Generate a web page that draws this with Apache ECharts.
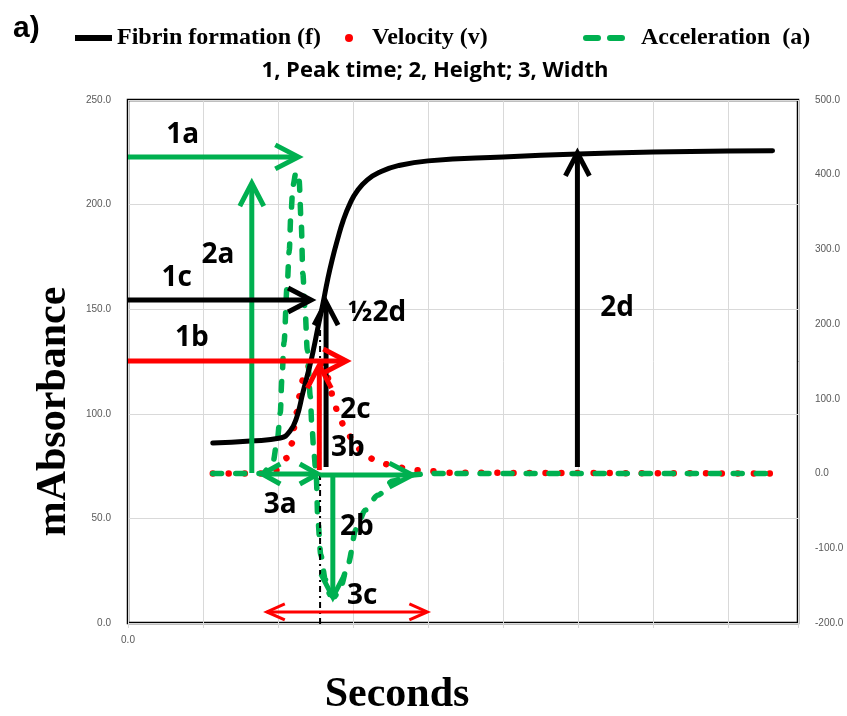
<!DOCTYPE html>
<html>
<head>
<meta charset="utf-8">
<script src="https://cdn.jsdelivr.net/npm/echarts@6/dist/echarts.min.js"></script>
<style>
  html, body { margin: 0; padding: 0; background: #fff; }
  #chart { width: 847px; height: 716px; }
</style>
</head>
<body>
<div id="chart"></div>
<script>
// fibrin formation (left axis, mAbsorbance)
var fibrinTime = [113, 163, 203, 216, 225, 233, 243, 248, 253, 260, 266, 272, 279, 287, 296, 305, 319, 336, 360, 400, 500, 600, 700, 800, 859];
var fibrin     = [86.0, 87.0, 88.4, 91.8, 98.5, 110, 124, 132, 141, 153, 164, 173.5, 183, 192.6, 200.6, 206.3, 211.8, 215.6, 218.6, 220.9, 222.8, 224.2, 225.1, 225.6, 225.8];

// velocity (right axis)
var velocityTime = [113, 179, 192, 199, 212, 219, 221, 225, 229, 233, 240, 248, 256, 264, 269, 273, 280, 289, 303, 316, 336, 356, 376, 399, 429, 859];
var velocity     = [0, 0, 3, 5, 21, 41, 61, 82, 105, 125, 143, 151, 149, 136, 121, 101, 81, 61, 38, 24, 14, 10, 5, 3.5, 1, 0];

// acceleration (right axis)
var accelTime = [113, 179, 193, 199, 203, 205, 208, 212, 215, 217, 220, 224, 228, 231, 233, 236, 239, 243, 245, 248, 251, 253, 257, 263, 269, 275, 283, 293, 304, 316, 333, 353, 376, 403, 859];
var accel     = [0, 0, 14, 45, 81, 125, 176, 250, 299, 346, 386, 404, 393, 333, 268, 219, 165, 103, 65, 25, -6, -62, -109, -142, -162, -165, -153, -122, -75, -49, -29, -10, -2, 0, 0];

// axis ranges [min, max, interval]
var timeAxis  = [0, 893, 100];
var leftAxis  = [0, 250, 50];
var rightAxis = [-200, 500, 100];

var GREEN = '#00B050', RED = '#FF0000', BLACK = '#000000';

// annotation arrows, in (seconds, mAbsorbance) units
var arrows = [
    {from: [0, 222.8],     to: [227, 222.8],   color: GREEN},
    {from: [165, 71.7],    to: [165, 210.3],   color: GREEN},
    {from: [179, 71.2],    to: [253, 71.2],    color: GREEN, both: true, head: 18, wing: 10},
    {from: [256, 70.7],    to: [379, 70.7],    color: GREEN},
    {from: [273, 70.3],    to: [273, 12.4],    color: GREEN},
    {from: [0, 154.4],     to: [244, 154.4],   color: BLACK},
    {from: [264, 74.6],    to: [264, 153.4],   color: BLACK},
    {from: [599, 74.6],    to: [599, 224.7],   color: BLACK},
    {from: [0, 125.2],     to: [291, 125.2],   color: RED},
    {from: [255, 73.1],    to: [255, 123.3],   color: RED},
    {from: [185, 5.3],     to: [399, 5.3],     color: RED, both: true, width: 3, head: 18, wing: 8}
];

var labels = [
    {text: '1a',  at: [73, 233.1]},
    {text: '2a',  at: [120, 175.9]},
    {text: '1c',  at: [65, 164.9]},
    {text: '1b',  at: [85, 136.2]},
    {text: '½2d', at: [332, 148.2]},
    {text: '2d',  at: [652, 150.6]},
    {text: '2c',  at: [303, 101.8]},
    {text: '3b',  at: [293, 83.7]},
    {text: '3a',  at: [203, 56.4]},
    {text: '2b',  at: [305, 45.9]},
    {text: '3c',  at: [312, 12.9]}
];

var peakLine = {from: [256, 140], to: [256, -2.4]};

function pairs(xs, ys) {
    return xs.map(function (x, i) { return [x, ys[i]]; });
}

function renderArrow(params, api) {
    var a = arrows[params.dataIndex];
    var p1 = api.coord(a.from), p2 = api.coord(a.to);
    var dx = p2[0] - p1[0], dy = p2[1] - p1[1];
    var len = Math.sqrt(dx * dx + dy * dy);
    var ux = dx / len, uy = dy / len, nx = -uy, ny = ux;
    var L = a.head || 23, W = a.wing || 12, lw = a.width || 5;
    var style = {stroke: a.color, lineWidth: lw, fill: null, lineCap: 'butt', lineJoin: 'miter'};
    function head(tip, sx, sy) {
        return {
            type: 'polyline',
            shape: {points: [
                [tip[0] - sx * L + nx * W, tip[1] - sy * L + ny * W],
                [tip[0], tip[1]],
                [tip[0] - sx * L - nx * W, tip[1] - sy * L - ny * W]
            ]},
            style: style
        };
    }
    var children = [
        {type: 'line', shape: {x1: p1[0], y1: p1[1], x2: p2[0] - ux * 2, y2: p2[1] - uy * 2}, style: style},
        head(p2, ux, uy)
    ];
    if (a.both) children.push(head(p1, -ux, -uy));
    if (params.dataIndex === 0) {
        var q1 = api.coord(peakLine.from), q2 = api.coord(peakLine.to);
        children.push({
            type: 'line',
            shape: {x1: q1[0], y1: q1[1], x2: q2[0], y2: q2[1]},
            style: {stroke: BLACK, lineWidth: 2, lineDash: [6, 4, 2, 4]}
        });
    }
    return {type: 'group', children: children};
}

function renderLabel(params, api) {
    var l = labels[params.dataIndex];
    var p = api.coord(l.at);
    return {
        type: 'text',
        x: p[0], y: p[1],
        style: {
            text: l.text, fill: BLACK,
            font: 'bold 28px "Open Sans", Lato, sans-serif',
            align: 'center', verticalAlign: 'middle'
        }
    };
}

var dom = document.getElementById('chart');
var myChart = echarts.init(dom, null, {renderer: 'canvas'});

var legendText = {fontFamily: 'Liberation Serif', fontWeight: 'bold', fontSize: 24, color: BLACK};
var axisLabelStyle = {color: '#595959', fontSize: 10, fontFamily: 'Liberation Sans'};

var option = {
    animation: false,
    title: [
        {text: 'a)', left: 8, top: 9,
         textStyle: {fontFamily: 'Liberation Sans', fontWeight: 'bold', fontSize: 30, color: BLACK}},
        {text: '1, Peak time; 2, Height; 3, Width', left: 430, top: 55, textAlign: 'center',
         textStyle: {fontFamily: 'Open Sans', fontWeight: 'bold', fontSize: 22, color: BLACK}}
    ],
    legend: [
        {data: ['Fibrin formation (f)'], left: 75, top: 26, padding: 0, selectedMode: false,
         icon: 'rect', itemWidth: 37, itemHeight: 6, textStyle: legendText},
        {data: ['Velocity (v)'], left: 345, top: 26, padding: 0, selectedMode: false,
         icon: 'circle', itemWidth: 8, itemHeight: 8,
         formatter: function (n) { return '{pad|}' + n; },
         textStyle: Object.assign({rich: {pad: {width: 14}}}, legendText)},
        {data: ['Acceleration  (a)'], left: 583, top: 26, padding: 0, selectedMode: false,
         icon: 'path://M3,0 H15 A3,3 0 0 1 15,6 H3 A3,3 0 0 1 3,0 Z M27,0 H39 A3,3 0 0 1 39,6 H27 A3,3 0 0 1 27,0 Z',
         itemWidth: 44, itemHeight: 6,
         formatter: function (n) { return '{pad|}' + n; },
         textStyle: Object.assign({rich: {pad: {width: 10}}}, legendText)}
    ],
    grid: {
        left: 128, right: 49, top: 100, bottom: 93,
        outerBoundsMode: 'none',
        show: true, borderColor: BLACK, borderWidth: 2.5
    },
    xAxis: {
        type: 'value', min: timeAxis[0], max: timeAxis[1], interval: timeAxis[2],
        name: 'Seconds', nameLocation: 'middle', nameGap: 51,
        nameTextStyle: {fontFamily: 'Liberation Serif', fontWeight: 'bold', fontSize: 42, color: BLACK,
                        padding: [0, 132, 0, 0]},
        axisLine: {show: false},
        axisTick: {show: true, length: 5, lineStyle: {color: '#d9d9d9'}},
        axisLabel: Object.assign({margin: 12, formatter: function (v) { return v === 0 ? '0.0' : ''; }}, axisLabelStyle),
        splitLine: {show: true, lineStyle: {color: '#d9d9d9', width: 1}}
    },
    yAxis: [
        {
            type: 'value', min: leftAxis[0], max: leftAxis[1], interval: leftAxis[2],
            name: 'mAbsorbance', nameLocation: 'middle', nameGap: 43,
            nameTextStyle: {fontFamily: 'Liberation Serif', fontWeight: 'bold', fontSize: 42, color: BLACK,
                            padding: [0, 100, 0, 0]},
            axisLine: {show: false}, axisTick: {show: false},
            axisLabel: Object.assign({margin: 17, formatter: function (v) { return v.toFixed(1); }}, axisLabelStyle),
            splitLine: {show: true, lineStyle: {color: '#d9d9d9', width: 1}}
        },
        {
            type: 'value', min: rightAxis[0], max: rightAxis[1], interval: rightAxis[2],
            position: 'right',
            axisLine: {show: false}, axisTick: {show: false},
            axisLabel: Object.assign({margin: 17, formatter: function (v) { return v.toFixed(1); }}, axisLabelStyle),
            splitLine: {show: false}
        }
    ],
    series: [
        {
            name: 'Velocity (v)', type: 'line', yAxisIndex: 1,
            data: pairs(velocityTime, velocity),
            showSymbol: false, smooth: 0.3, smoothMonotone: 'x',
            itemStyle: {color: RED},
            lineStyle: {color: RED, width: 6.5, type: [0.01, 16], cap: 'round'},
            z: 2
        },
        {
            name: 'Acceleration  (a)', type: 'line', yAxisIndex: 1,
            data: pairs(accelTime, accel),
            showSymbol: false, smooth: 0.3, smoothMonotone: 'x',
            itemStyle: {color: GREEN},
            lineStyle: {color: GREEN, width: 5.5, type: [9, 14], cap: 'round'},
            z: 3
        },
        {
            name: 'Fibrin formation (f)', type: 'line', yAxisIndex: 0,
            data: pairs(fibrinTime, fibrin),
            showSymbol: false, smooth: 0.5,
            itemStyle: {color: BLACK},
            lineStyle: {color: BLACK, width: 5, cap: 'round', join: 'round'},
            z: 4
        },
        {
            name: 'arrows', type: 'custom', yAxisIndex: 0,
            data: arrows.map(function (a) { return [a.from[0], a.from[1], a.to[0], a.to[1]]; }),
            encode: {x: [0, 2], y: [1, 3]},
            renderItem: renderArrow, silent: true, z: 5
        },
        {
            name: 'labels', type: 'custom', yAxisIndex: 0,
            data: labels.map(function (l) { return l.at; }),
            encode: {x: 0, y: 1},
            renderItem: renderLabel, silent: true, z: 6
        }
    ]
};

if (option && typeof option === "object") {
    myChart.setOption(option, true);
}
window.onresize = function () { myChart.resize(); };
</script>
</body>
</html>
